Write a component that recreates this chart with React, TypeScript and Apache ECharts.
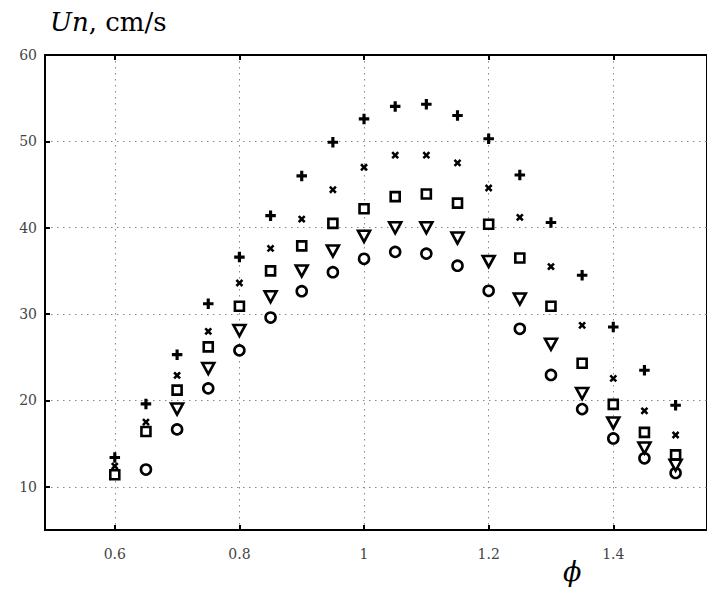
import React, { useEffect, useRef } from "react";
import * as echarts from "echarts";

const phi = [0.6, 0.65, 0.7, 0.75, 0.8, 0.85, 0.9, 0.95, 1.0, 1.05, 1.1, 1.15, 1.2, 1.25, 1.3, 1.35, 1.4, 1.45, 1.5];
const plusVals = [13.4, 19.6, 25.3, 31.2, 36.6, 41.4, 46.0, 49.9, 52.6, 54.05, 54.3, 53.0, 50.3, 46.1, 40.6, 34.5, 28.5, 23.5, 19.45];
const crossVals = [12.4, 17.5, 22.9, 28.0, 33.6, 37.6, 41.0, 44.4, 47.0, 48.4, 48.4, 47.5, 44.6, 41.2, 35.5, 28.7, 22.55, 18.8, 16.0];
const squareVals = [11.4, 16.4, 21.2, 26.2, 30.9, 35.0, 37.9, 40.5, 42.2, 43.6, 43.9, 42.85, 40.4, 36.5, 30.9, 24.3, 19.55, 16.3, 13.7];
const triVals = [null, null, 19.0, 23.7, 28.1, 32.0, 35.0, 37.3, 39.0, 40.0, 40.0, 38.8, 36.1, 31.75, 26.5, 20.8, 17.4, 14.5, 12.5];
const circleVals = [null, 12.0, 16.65, 21.4, 25.8, 29.6, 32.65, 34.85, 36.4, 37.2, 37.0, 35.6, 32.7, 28.3, 22.95, 19.0, 15.6, 13.3, 11.6];

const xTicks = [0.6, 0.8, 1.0, 1.2, 1.4];
const yTicks = [10, 20, 30, 40, 50, 60];

const pair = (vals: (number | null)[]) =>
  phi.map((x, i) => (vals[i] == null ? null : [x, vals[i]])).filter((p) => p !== null);

const PLUS = "path://M3.5,0H6.5V3.5H10V6.5H6.5V10H3.5V6.5H0V3.5H3.5Z";
const FONT = "DejaVu Serif";
const X_MIN = 0.488;
const X_MAX = 1.5504;

export default function App() {
  const ref = useRef<HTMLDivElement>(null);
  useEffect(() => {
    if (!ref.current) return;
    const chart = echarts.init(ref.current, null, { renderer: "svg" });
    const hollow = { color: "#fff", borderColor: "#000", borderWidth: 2.6, opacity: 1 };
    const solid = { color: "#000", opacity: 1 };
    const gridLine = { show: true, lineStyle: { color: "#888", width: 1, type: [1.5, 4.5] as any } };
    const tickStyle = { color: "#000", width: 2 };
    chart.setOption({
      animation: false,
      backgroundColor: "#fff",
      grid: { left: 45, top: 55, right: -2, bottom: 60, containLabel: false, show: true, borderColor: "#000", borderWidth: 2, backgroundColor: "transparent" },
      xAxis: [
        {
          type: "value",
          min: X_MIN,
          max: X_MAX,
          axisLine: { show: true, onZero: false, lineStyle: { color: "#000", width: 2 } },
          axisTick: { show: true, inside: true, length: 5, customValues: xTicks, lineStyle: tickStyle },
          axisLabel: {
            customValues: xTicks,
            margin: 17,
            fontFamily: FONT,
            fontSize: 14,
            color: "#444",
            formatter: (v: number) => (Math.abs(v - 1) < 1e-9 ? "1" : String(v)),
          },
          splitLine: gridLine,
        },
        {
          type: "value",
          position: "top",
          min: X_MIN,
          max: X_MAX,
          axisLine: { show: true, onZero: false, lineStyle: { color: "#000", width: 2 } },
          axisTick: { show: true, inside: true, length: 5, customValues: xTicks, lineStyle: tickStyle },
          axisLabel: { show: false },
          splitLine: { show: false },
        },
      ],
      yAxis: {
        type: "value",
        min: 5,
        max: 60,
        axisLine: { show: true, onZero: false, lineStyle: { color: "#000", width: 2 } },
        axisTick: { show: true, inside: true, length: 5, customValues: yTicks, lineStyle: tickStyle },
        axisLabel: { customValues: yTicks, margin: 8, fontFamily: FONT, fontSize: 14, color: "#444" },
        splitLine: gridLine,
      },
      graphic: [
        {
          type: "text",
          left: 50,
          top: 9,
          style: {
            text: "{i|Un}{n|, cm/s}",
            rich: {
              i: { fontFamily: FONT, fontStyle: "italic", fontSize: 26, fill: "#000" },
              n: { fontFamily: FONT, fontSize: 26, fill: "#000" },
            },
          },
        },
        {
          type: "text",
          left: 563,
          top: 558,
          style: { text: "ϕ", fontFamily: FONT, fontStyle: "italic", fontSize: 27, fill: "#000" },
        },
      ],
      series: [
        { type: "scatter", xAxisIndex: 1, data: [], silent: true },
        { type: "scatter", data: pair(circleVals), symbol: "circle", symbolSize: 10, itemStyle: hollow },
        { type: "scatter", data: pair(triVals), symbol: "triangle", symbolRotate: 180, symbolSize: [12, 11], itemStyle: hollow },
        { type: "scatter", data: pair(squareVals), symbol: "rect", symbolSize: 9, itemStyle: hollow },
        { type: "scatter", data: pair(crossVals), symbol: PLUS, symbolRotate: 45, symbolSize: 8.5, itemStyle: solid },
        { type: "scatter", data: pair(plusVals), symbol: PLUS, symbolSize: 10.5, itemStyle: solid },
      ],
    });
    return () => chart.dispose();
  }, []);
  return <div ref={ref} style={{ width: 707, height: 590, position: "absolute", left: 0, top: 0 }} />;
}
